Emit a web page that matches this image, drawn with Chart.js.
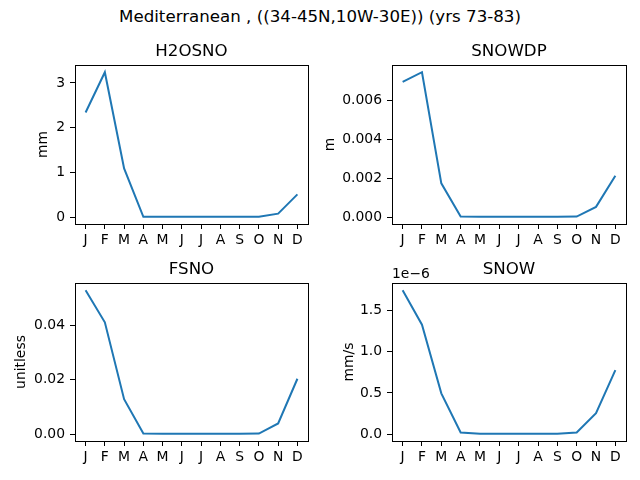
<!DOCTYPE html>
<html>
<head>
<meta charset="utf-8">
<script src="https://cdn.jsdelivr.net/npm/chart.js@4.4.1/dist/chart.umd.min.js"></script>
<style>
  body { margin: 0; background: #fff; }
  #wrap { position: relative; width: 640px; height: 480px; overflow: hidden; }
  #wrap canvas { position: absolute; }
  #suptitle {
    position: absolute; left: 0; top: 7px; width: 640px; text-align: center;
    font: 16.67px "DejaVu Sans"; line-height: 20px; color: #000;
  }
</style>
</head>
<body>
<div id="wrap">
  <div id="suptitle">Mediterranean , ((34-45N,10W-30E)) (yrs 73-83)</div>
  <canvas id="h2osno" width="320" height="225" style="left:0px;top:30px"></canvas>
  <canvas id="snowdp" width="320" height="225" style="left:320px;top:30px"></canvas>
  <canvas id="fsno" width="320" height="225" style="left:0px;top:248px"></canvas>
  <canvas id="snow" width="320" height="225" style="left:320px;top:248px"></canvas>
</div>
<script>
const months = ["J", "F", "M", "A", "M", "J", "J", "A", "S", "O", "N", "D"];

// monthly means
const h2osno = [2.34, 3.24, 1.09, 0.01, 0.01, 0.01, 0.01, 0.01, 0.01, 0.01, 0.08, 0.51];
const snowdp = [0.00696, 0.00746, 0.00174, 0.00003, 0.00002, 0.00002, 0.00002, 0.00002, 0.00002, 0.00003, 0.00053, 0.00213];
const fsno = [0.0528, 0.041, 0.0128, 0.0002, 0.0001, 0.0001, 0.0001, 0.0001, 0.0001, 0.0002, 0.0039, 0.0203];
const snow = [1.75e-6, 1.33e-6, 0.495e-6, 0.02e-6, 0.005e-6, 0.003e-6, 0.003e-6, 0.003e-6, 0.004e-6, 0.02e-6, 0.254e-6, 0.777e-6];

// tick values
const h2osnoTicks = [0, 1, 2, 3];
const snowdpTicks = [0, 0.002, 0.004, 0.006];
const fsnoTicks = [0, 0.02, 0.04];
const snowTicks = [0, 0.5e-6, 1.0e-6, 1.5e-6];

const FONT = "DejaVu Sans";

// draws the full axes box and the optional offset text (1e-6)
const framePlugin = {
  id: "frame",
  afterDraw(chart, args, opts) {
    const { ctx, chartArea } = chart;
    ctx.save();
    ctx.strokeStyle = "#000";
    ctx.lineWidth = 1;
    ctx.strokeRect(
      Math.round(chartArea.left) + 0.5,
      Math.round(chartArea.top) + 0.5,
      Math.round(chartArea.right - chartArea.left),
      Math.round(chartArea.bottom - chartArea.top)
    );
    if (opts.offsetText) {
      ctx.fillStyle = "#000";
      ctx.font = "13.9px '" + FONT + "'";
      ctx.textAlign = "left";
      ctx.textBaseline = "alphabetic";
      ctx.fillText(opts.offsetText, chartArea.left, chartArea.top - 5);
    }
    ctx.restore();
  },
};

function createPanel(id, title, unit, values, ticks, layout) {
  const lo = Math.min(...values);
  const hi = Math.max(...values);
  const margin = (hi - lo) * 0.05;

  const config = {
    type: "line",
    data: {
      datasets: [
        {
          data: values.map((v, i) => ({ x: i, y: v })),
          borderColor: "#1f77b4",
          borderWidth: 2,
          pointRadius: 0,
          tension: 0,
          fill: false,
        },
      ],
    },
    options: {
      responsive: false,
      animation: false,
      layout: { padding: { left: 0, right: layout.right, top: 0, bottom: 0 } },
      plugins: {
        legend: { display: false },
        tooltip: { enabled: false },
        title: {
          display: true,
          fullSize: false,
          text: title,
          color: "#000",
          font: { family: FONT, size: 16.67, weight: "normal" },
          padding: { top: 11.5, bottom: 3.5 },
        },
        frame: { offsetText: layout.offsetText },
      },
      scales: {
        x: {
          type: "linear",
          min: -0.55,
          max: 11.55,
          afterBuildTicks: (scale) => {
            scale.ticks = months.map((m, i) => ({ value: i }));
          },
          afterFit: (scale) => {
            scale.height = layout.xHeight;
          },
          ticks: {
            autoSkip: false,
            maxRotation: 0,
            padding: 3,
            color: "#000",
            font: { family: FONT, size: 13.9 },
            callback: (value) => months[Math.round(value)],
          },
          grid: {
            display: true,
            drawOnChartArea: false,
            drawTicks: true,
            tickLength: 5,
            color: "#000",
            lineWidth: 1,
          },
          border: { display: false },
        },
        y: {
          type: "linear",
          min: lo - margin,
          max: hi + margin,
          afterBuildTicks: (scale) => {
            scale.ticks = ticks.map((v) => ({ value: v }));
          },
          afterFit: (scale) => {
            scale.width = layout.yWidth;
          },
          ticks: {
            padding: 5,
            color: "#000",
            font: { family: FONT, size: 13.9 },
            callback: (value) => (value * layout.scale).toFixed(layout.decimals),
          },
          grid: {
            display: true,
            drawOnChartArea: false,
            drawTicks: true,
            tickLength: 5,
            color: "#000",
            lineWidth: 1,
          },
          border: { display: false },
          title: {
            display: true,
            text: unit,
            color: "#000",
            font: { family: FONT, size: 13.9 },
            padding: { top: layout.titlePad, bottom: 0 },
          },
        },
      },
    },
    plugins: [framePlugin],
  };

  return new Chart(document.getElementById(id), config);
}

createPanel("h2osno", "H2OSNO", "mm", h2osno, h2osnoTicks, {
  yWidth: 75, right: 12, xHeight: 31, titlePad: 35.5, scale: 1, decimals: 0,
});
createPanel("snowdp", "SNOWDP", "m", snowdp, snowdpTicks, {
  yWidth: 72, right: 14, xHeight: 31, titlePad: 2.5, scale: 1, decimals: 3,
});
createPanel("fsno", "FSNO", "unitless", fsno, fsnoTicks, {
  yWidth: 75, right: 12, xHeight: 32, titlePad: 13, scale: 1, decimals: 2,
});
createPanel("snow", "SNOW", "mm/s", snow, snowTicks, {
  yWidth: 72, right: 14, xHeight: 32, titlePad: 21.5, scale: 1e6, decimals: 1,
  offsetText: "1e\u22126",
});
</script>
</body>
</html>
